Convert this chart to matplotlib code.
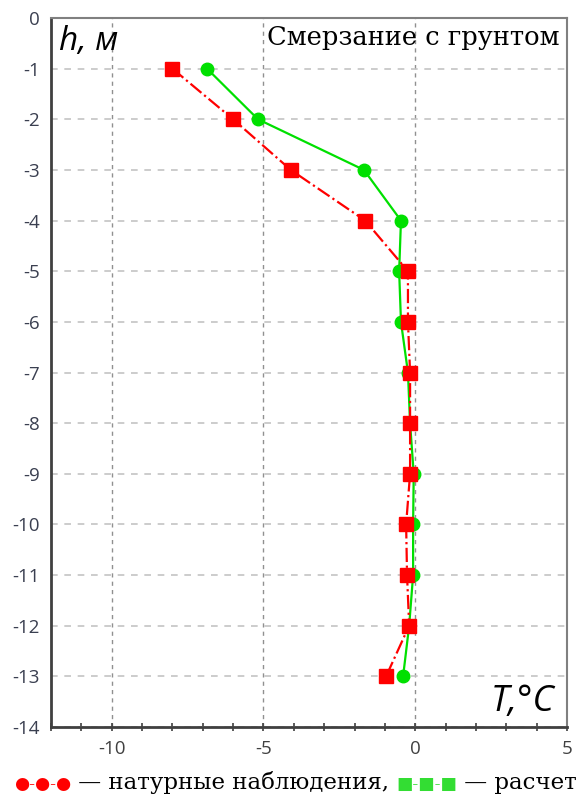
import matplotlib
matplotlib.use("Agg")
import matplotlib.pyplot as plt
import numpy as np

# depth, m
depth = [-1, -2, -3, -4, -5, -6, -7, -8, -9, -10, -11, -12, -13]
# red squares
t_observed = [-8.0, -6.0, -4.1, -1.65, -0.24, -0.24, -0.17, -0.17, -0.17, -0.3, -0.27, -0.2, -0.96]
# green circles
t_calc = [-6.86, -5.18, -1.69, -0.47, -0.53, -0.47, -0.24, -0.17, -0.05, -0.07, -0.07, -0.2, -0.4]

x_ticks = [-10, -5, 0, 5]
y_ticks = list(range(0, -15, -1))

fig = plt.figure(figsize=(5.87, 7.96), dpi=100)
ax = fig.add_axes([51 / 587, 1 - 727 / 796, 516 / 587, 709 / 796])

ax.plot(t_observed, depth, color="#ff0000", linestyle="-.", linewidth=1.6,
        marker="s", markersize=10, zorder=3)
ax.plot(t_calc, depth, color="#00e000", linestyle="-", linewidth=1.6,
        marker="o", markersize=9, zorder=2)

ax.set_xlim(-12, 5)
ax.set_ylim(-14, 0)
ax.set_xticks(x_ticks)
ax.set_xticklabels([str(v) for v in x_ticks])
ax.set_xticks(np.arange(-12, 6, 1), minor=True)
ax.set_yticks(y_ticks)
ax.set_yticklabels([str(v) for v in y_ticks])

ax.grid(True, axis="y", which="major", color="#c4c4c4", linestyle=(0, (4, 4)), linewidth=1.2)
ax.grid(True, axis="x", which="major", color="#909090", linestyle=(0, (3, 3)), linewidth=1.0)
ax.tick_params(axis="x", which="both", direction="inout", length=6, width=1.2,
               color="#404040", labelsize=13.5, labelcolor="#404040", pad=6)
ax.tick_params(axis="y", which="both", length=0, labelsize=13.5,
               labelcolor="#3a3f50", pad=8)
for lab in ax.get_xticklabels() + ax.get_yticklabels():
    lab.set_family("Open Sans")

for side in ("left", "bottom"):
    ax.spines[side].set_color("#404040")
    ax.spines[side].set_linewidth(2.0)
for side in ("top", "right"):
    ax.spines[side].set_color("#808080")
    ax.spines[side].set_linewidth(1.5)

ax.text(0.015, 0.99, "h, м", transform=ax.transAxes, ha="left", va="top",
        fontsize=24, style="italic", family="Open Sans")
ax.text(0.985, 0.99, "Смерзание с грунтом", transform=ax.transAxes,
        ha="right", va="top", fontsize=18.5, family="DejaVu Serif")
ax.text(0.975, 0.01, "T,°C", transform=ax.transAxes, ha="right", va="bottom",
        fontsize=26, style="italic", family="Open Sans")

# legend line under the chart, built from pieces
pieces = [
    ("●-●-●", "#ff0000", 12.5),
    (" — натурные наблюдения, ", "#000000", 16.5),
    ("■-■-■", "#33dd33", 12.5),
    (" — расчет", "#000000", 16.5),
]
for s, c, fs in pieces:
    fig.text(14 / 587, 1 - 789 / 796, s, color=c, fontsize=fs,
             family="DejaVu Serif", va="baseline", ha="left")
fig.canvas.draw()
renderer = fig.canvas.get_renderer()
texts = fig.texts
x0 = texts[0].get_window_extent(renderer).x1
for t in texts[1:]:
    pos = fig.transFigure.inverted().transform((x0, 0))[0]
    t.set_position((pos, texts[0].get_position()[1]))
    x0 = t.get_window_extent(renderer).x1

fig.savefig("out.png", dpi=100)
